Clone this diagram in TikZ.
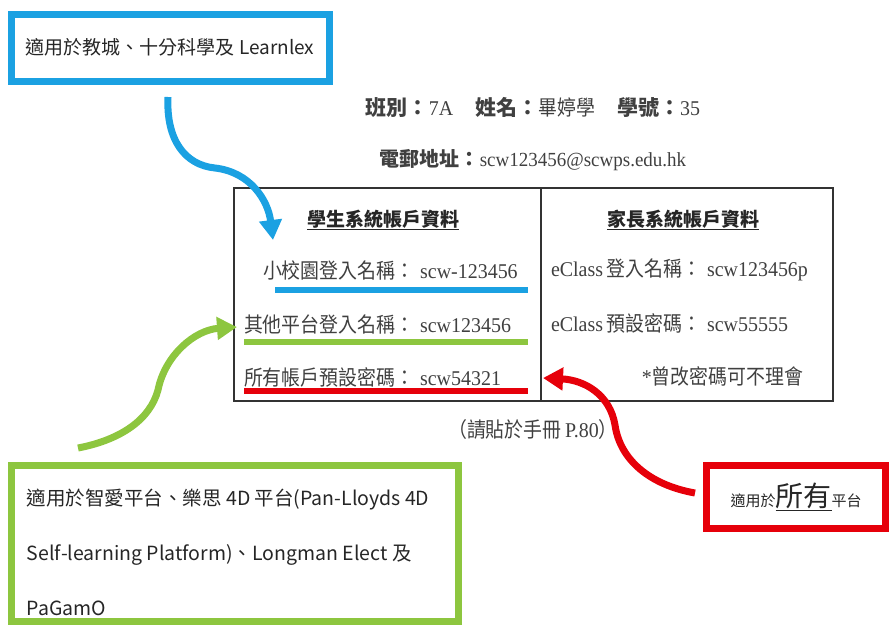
\documentclass[tikz,border=0pt]{standalone}
\usepackage{fontspec}
\setmainfont{Liberation Serif}[FakeStretch=0.95]
\newfontfamily\cjk{Noto Sans CJK TC}
\newfontfamily\cjkn{Noto Sans CJK TC}[FakeStretch=0.9]
\usetikzlibrary{arrows.meta}
\definecolor{calloutblue}{RGB}{27,161,226}
\definecolor{calloutgreen}{RGB}{141,198,63}
\definecolor{calloutred}{RGB}{230,0,10}

\begin{document}
\begin{tikzpicture}[
            x=1pt, y=-1pt,
            every node/.style={inner sep=0pt, outer sep=0pt},
            callout/.style={draw, line width=7pt, fill=white},
            calltext/.style={font=\cjk\fontsize{19}{23}\selectfont, text=black!85},
            tabtext/.style={font=\fontsize{21}{25}\selectfont, text=black!75},
            tabhead/.style={font=\cjk\bfseries\fontsize{19}{23}\selectfont, text=black!85},
            underbar/.style={line width=6pt},
            arrow/.style={line width=7pt, -{Triangle[length=20pt, width=22pt]}}
        ]
        \useasboundingbox (0,0) rectangle (891,630);

        \node[tabtext] (info) at (533,108) {{\cjk\bfseries 班別：}7A\hspace{22pt}{\cjk\bfseries 姓名：}{\cjkn 畢婷學}\hspace{22pt}{\cjk\bfseries 學號：}35};
        \node[tabtext, font=\fontsize{20}{24}\selectfont] (email) at (533,160) {{\cjk\bfseries 電郵地址：}scw123456@scwps.edu.hk};

        % account table
        \draw[black!80, line width=1.5pt] (234,188) rectangle (833,401);
        \draw[black!80, line width=1.5pt] (541,188) -- (541,401);

        \node[tabhead] (stuhead) at (383,220) {\underline{學生系統帳戶資料}};
        \node[tabhead] (parhead) at (683,220) {\underline{家長系統帳戶資料}};

        \node[tabtext, anchor=west] (cms) at (263,270) {{\cjkn 小校園登入名稱：}\hspace{6pt}scw-123456};
        \node[tabtext, anchor=west] (other) at (244,324) {{\cjkn 其他平台登入名稱：}\hspace{6pt}scw123456};
        \node[tabtext, anchor=west] (pwd) at (244,377) {{\cjkn 所有帳戶預設密碼：}\hspace{6pt}scw54321};
        \node[tabtext, anchor=west] (ecname) at (551,270) {eClass\,{\cjkn 登入名稱：}\hspace{6pt}scw123456p};
        \node[tabtext, anchor=west] (ecpwd) at (551,323) {eClass\,{\cjkn 預設密碼：}\hspace{6pt}scw55555};
        \node[tabtext, anchor=east] (note) at (803,376) {*{\cjkn 曾改密碼可不理會}};
        \node[tabtext] (paste) at (533,430) {{\cjkn （請貼於手冊}\,P.80{\cjkn ）}};

        \draw[underbar, calloutblue] (275,290) -- (528,290);
        \draw[underbar, calloutgreen] (244,342) -- (528,342);
        \draw[underbar, calloutred] (244,391) -- (528,391);

        % callouts
        \node[callout, draw=calloutblue, minimum width=318pt, minimum height=67pt, calltext] (bluebox) at (170,47.5) {適用於教城、十分科學及 Learnlex};
        \node[callout, draw=calloutgreen, minimum width=447pt, minimum height=156pt] (greenbox) at (235,543.5) {};
        \node[calltext, anchor=west, align=left, font=\cjk\fontsize{19.5}{55}\selectfont] (greentext) at (27,552) {適用於智愛平台、樂思 4D 平台(Pan-Lloyds 4D\\Self-learning Platform)、Longman Elect 及\\PaGamO};
        \node[callout, draw=calloutred, minimum width=179pt, minimum height=63pt, calltext] (redbox) at (796,497) {{\fontsize{15}{18}\selectfont 適用於}\underline{\fontsize{28}{30}\selectfont 所有}{\fontsize{15}{18}\selectfont 平台}};

        \coordinate (bluetail) at (168,97);
        \coordinate (bluetip) at (273,240);
        \coordinate (greentail) at (78,448);
        \coordinate (greentip) at (237,327);
        \coordinate (redtail) at (695,493);
        \coordinate (redtip) at (543,378);

        \draw[arrow, calloutblue] (bluetail) .. controls (166,140) and (185,165) .. (215,168) .. controls (250,172) and (268,200) .. (bluetip);
        \draw[arrow, calloutgreen] (greentail) .. controls (120,440) and (150,420) .. (158,390) .. controls (165,355) and (195,330) .. (greentip);
        \draw[arrow, calloutred] (redtail) .. controls (650,485) and (620,460) .. (615,425) .. controls (610,395) and (585,380) .. (redtip);

    \end{tikzpicture}
\end{document}
